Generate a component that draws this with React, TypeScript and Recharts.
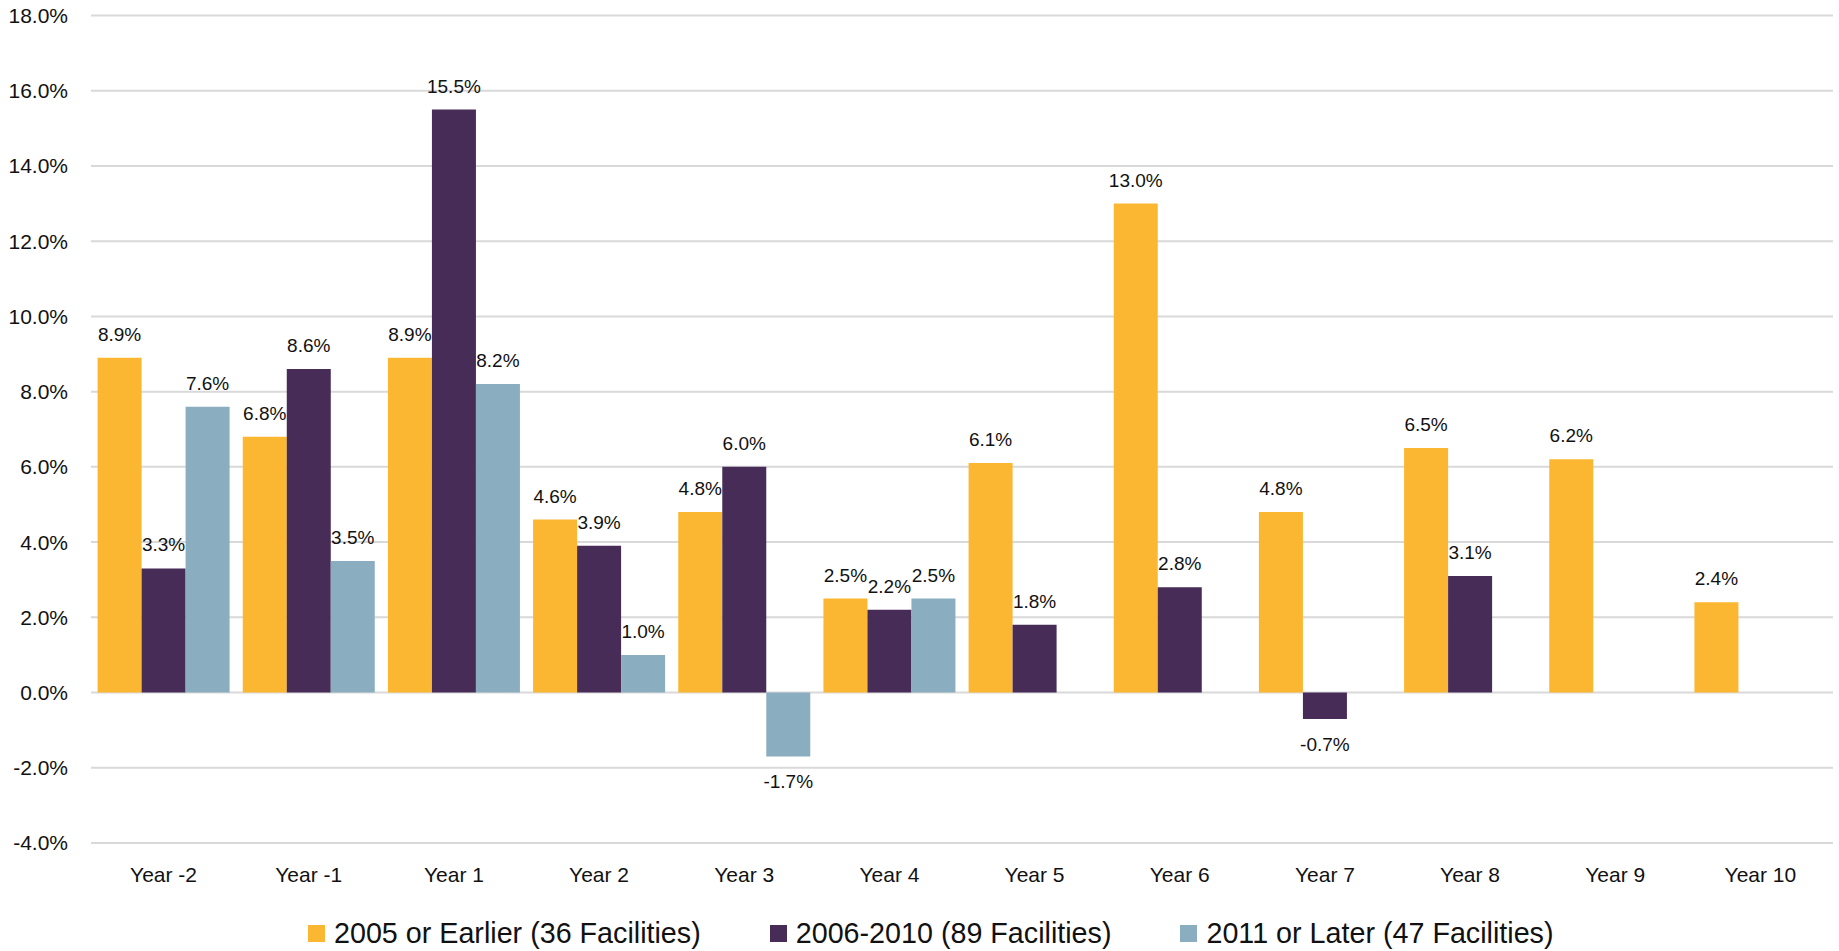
import React from 'react';
import { BarChart, Bar, XAxis, YAxis, CartesianGrid, Legend, LabelList } from 'recharts';

const years = ['Year -2', 'Year -1', 'Year 1', 'Year 2', 'Year 3', 'Year 4', 'Year 5', 'Year 6', 'Year 7', 'Year 8', 'Year 9', 'Year 10'];
const early = [8.9, 6.8, 8.9, 4.6, 4.8, 2.5, 6.1, 13.0, 4.8, 6.5, 6.2, 2.4];
const middle = [3.3, 8.6, 15.5, 3.9, 6.0, 2.2, 1.8, 2.8, -0.7, 3.1, null, null];
const later = [7.6, 3.5, 8.2, 1.0, -1.7, 2.5, null, null, null, null, null, null];
const yTicks = [-4, -2, 0, 2, 4, 6, 8, 10, 12, 14, 16, 18];

const data = years.map((year, i) => ({
  year,
  early: early[i],
  middle: middle[i],
  later: later[i],
}));

const FONT = '"Liberation Sans", Arial, sans-serif';

const renderLabel = (props: any) => {
  const { x, y, width, height, value } = props;
  if (value == null) return null;
  const top = Math.min(y, y + height);
  const bottom = Math.max(y, y + height);
  const ty = value >= 0 ? top - 17 : bottom + 32;
  return (
    <text x={x + width / 2} y={ty} textAnchor='middle' fontSize={19} fill='#111' fontFamily={FONT}>
      {Number(value).toFixed(1)}%
    </text>
  );
};

const renderLegend = (props: any) => {
  const { payload } = props;
  return (
    <div style={{ display: 'flex', height: 36, alignItems: 'center', paddingLeft: 308, gap: 69, fontFamily: FONT }}>
      {(payload || []).map((entry: any) => (
        <div key={entry.value} style={{ display: 'flex', alignItems: 'center' }}>
          <span style={{ width: 17, height: 17, background: entry.color, marginRight: 9, display: 'inline-block' }} />
          <span style={{ fontSize: 28.7, color: '#111', whiteSpace: 'nowrap' }}>{entry.value}</span>
        </div>
      ))}
    </div>
  );
};

export default function App() {
  return (
    <div style={{ position: 'absolute', left: 0, top: 0, width: 1839, height: 951, background: '#fff' }}>
      <BarChart
        width={1839}
        height={951}
        data={data}
        margin={{ top: 15.5, right: 6, left: 0, bottom: 0 }}
        barCategoryGap={6.6}
        barGap={0}
      >
        <CartesianGrid vertical={false} stroke='#d9d9d9' strokeWidth={2} />
        <XAxis
          dataKey='year'
          axisLine={false}
          tickLine={false}
          height={72}
          tickMargin={18}
          interval={0}
          tick={{ fontSize: 21, fill: '#111', fontFamily: FONT }}
        />
        <YAxis
          domain={[-4, 18]}
          ticks={yTicks}
          width={91}
          axisLine={false}
          tickLine={false}
          tickMargin={17}
          tickFormatter={(v: number) => v.toFixed(1) + '%'}
          tick={{ fontSize: 21, fill: '#111', fontFamily: FONT }}
        />
        <Legend
          verticalAlign='bottom'
          content={renderLegend}
          wrapperStyle={{ left: 0, width: 1839 }}
        />
        <Bar dataKey='early' name='2005 or Earlier (36 Facilities)' fill='#FBB731' isAnimationActive={false}>
          <LabelList dataKey='early' content={renderLabel} />
        </Bar>
        <Bar dataKey='middle' name='2006-2010 (89 Facilities)' fill='#472C58' isAnimationActive={false}>
          <LabelList dataKey='middle' content={renderLabel} />
        </Bar>
        <Bar dataKey='later' name='2011 or Later (47 Facilities)' fill='#8AAEBF' isAnimationActive={false}>
          <LabelList dataKey='later' content={renderLabel} />
        </Bar>
      </BarChart>
    </div>
  );
}
